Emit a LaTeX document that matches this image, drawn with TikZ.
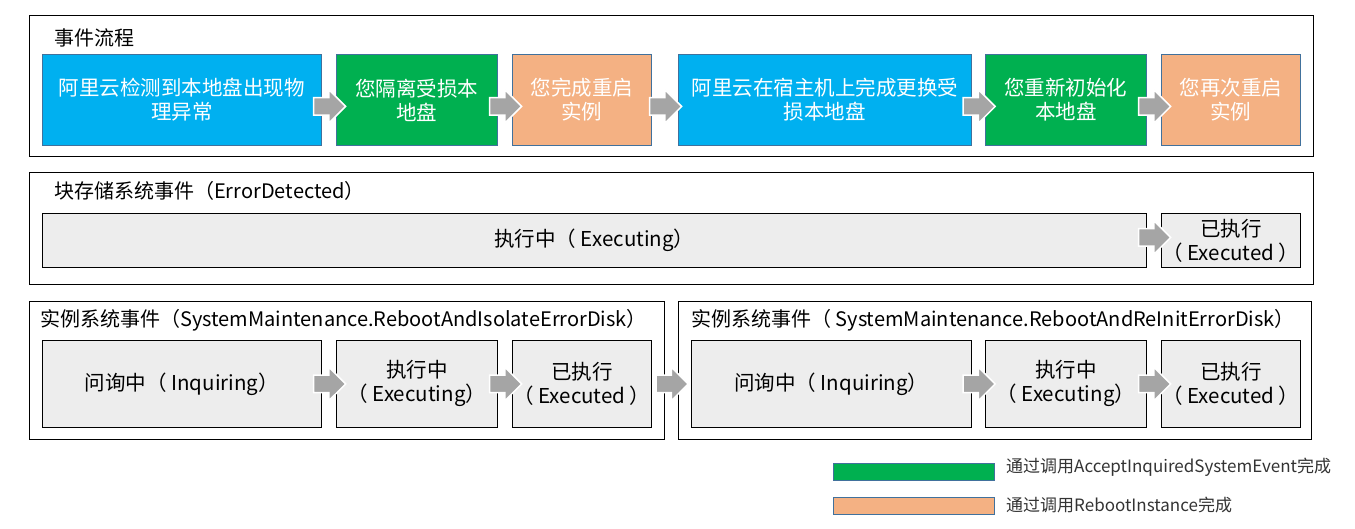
\documentclass[tikz,border=0pt]{standalone}
\usepackage{fontspec}
\setmainfont{Noto Sans CJK SC}
\usetikzlibrary{shapes.arrows, calc}

\definecolor{aliblue}{HTML}{00B0F0}
\definecolor{okgreen}{HTML}{00B050}
\definecolor{peach}{HTML}{F4B183}
\definecolor{edgeblue}{HTML}{41719C}
\definecolor{stategray}{HTML}{EDEDED}
\definecolor{arrowgray}{HTML}{A5A5A5}

\begin{document}
\begin{tikzpicture}[x = 1pt, y = -1pt,
    frame/.style = {draw = black, line width = 1.2pt, anchor = north west, inner sep = 0pt},
    flow/.style = {draw = edgeblue, line width = 0.8pt, anchor = north west, inner sep = 0pt,
        text = white, align = center, font = \fontsize{20.5}{24}\selectfont},
    state/.style = {draw = black, line width = 0.8pt, fill = stategray, anchor = north west,
        inner sep = 0pt, align = center, font = \fontsize{20.5}{24}\selectfont},
    jump/.style = {shape = single arrow, fill = arrowgray, draw = white, line width = 1.5pt,
        minimum height = 32pt, inner xsep = 0pt, inner ysep = 8pt,
        single arrow head extend = 8pt, anchor = tail},
    title/.style = {anchor = west, inner sep = 0pt, font = \fontsize{20}{24}\selectfont},
    key/.style = {draw = edgeblue, line width = 0.8pt, anchor = north west, inner sep = 0pt,
        minimum width = 161pt, minimum height = 17pt}]
    \useasboundingbox (0,0) rectangle (1355,528);

    % frames
    \node[frame, minimum width = 1284pt, minimum height = 141pt] (F1) at (29,15) {};
    \node[frame, minimum width = 1284pt, minimum height = 112pt] (F2) at (29,172) {};
    \node[frame, minimum width = 635pt, minimum height = 138pt] (F3) at (29,301) {};
    \node[frame, minimum width = 633pt, minimum height = 138pt] (F4) at (678,301) {};

    \node[title] (T1) at (54,38) {事件流程};
    \node[title] (T2) at (54,191) {块存储系统事件（ErrorDetected）};
    \node[title] (T3) at (40,320) {实例系统事件（SystemMaintenance.RebootAndIsolateErrorDisk）};
    \node[title] (T4) at (691,320) {实例系统事件（ SystemMaintenance.RebootAndReInitErrorDisk）};

    % event flow
    \node[flow, fill = aliblue, minimum width = 279pt, minimum height = 91pt] (A1) at (42,54) {阿里云检测到本地盘出现物\\理异常};
    \node[flow, fill = okgreen, minimum width = 161pt, minimum height = 91pt] (A2) at (336,54) {您隔离受损本\\地盘};
    \node[flow, fill = peach, minimum width = 139pt, minimum height = 91pt] (A3) at (512,54) {您完成重启\\实例};
    \node[flow, fill = aliblue, minimum width = 293pt, minimum height = 91pt] (A4) at (678,54) {阿里云在宿主机上完成更换受\\损本地盘};
    \node[flow, fill = okgreen, minimum width = 161pt, minimum height = 91pt] (A5) at (985,54) {您重新初始化\\本地盘};
    \node[flow, fill = peach, minimum width = 139pt, minimum height = 91pt] (A6) at (1161,54) {您再次重启\\实例};
    \foreach \a/\b in {A1/A2, A2/A3, A3/A4, A4/A5, A5/A6}
        \node[jump] (J\a) at ($(\a.east)!0.5!(\b.west) + (-16,6.5)$) {};

    % block storage event
    \node[state, minimum width = 1104pt, minimum height = 54pt] (B1) at (42,213) {执行中（ Executing）};
    \node[state, minimum width = 139pt, minimum height = 54pt] (B2) at (1161,213) {已执行\\（ Executed ）};
    \node[jump] (JB) at ($(B1.east)!0.5!(B2.west) + (-16,-3)$) {};

    % instance system events
    \node[state, minimum width = 279pt, minimum height = 87pt] (S1) at (42,340) {问询中（ Inquiring）};
    \node[state, minimum width = 161pt, minimum height = 87pt] (S2) at (336,340) {执行中\\（ Executing）};
    \node[state, minimum width = 139pt, minimum height = 87pt] (S3) at (512,340) {已执行\\（ Executed ）};
    \node[state, minimum width = 280pt, minimum height = 87pt] (S4) at (691,340) {问询中（ Inquiring）};
    \node[state, minimum width = 161pt, minimum height = 87pt] (S5) at (985,340) {执行中\\（ Executing）};
    \node[state, minimum width = 139pt, minimum height = 87pt] (S6) at (1161,340) {已执行\\（ Executed ）};
    \foreach \a/\b in {S1/S2, S2/S3, S3/S4, S4/S5, S5/S6}
        \node[jump] (J\a) at ($(\a.east)!0.5!(\b.west) + (-16,0)$) {};

    % legend
    \node[key, fill = okgreen] (K1) at (833,463) {};
    \node[key, fill = peach] (K2) at (833,497) {};
    \node[anchor = west, inner sep = 0pt, text = black!80, font = \fontsize{17}{20}\selectfont] (L1) at (1006,467) {通过调用AcceptInquiredSystemEvent完成};
    \node[anchor = west, inner sep = 0pt, text = black!80, font = \fontsize{17}{20}\selectfont] (L2) at (1006,505) {通过调用RebootInstance完成};
\end{tikzpicture}
\end{document}
